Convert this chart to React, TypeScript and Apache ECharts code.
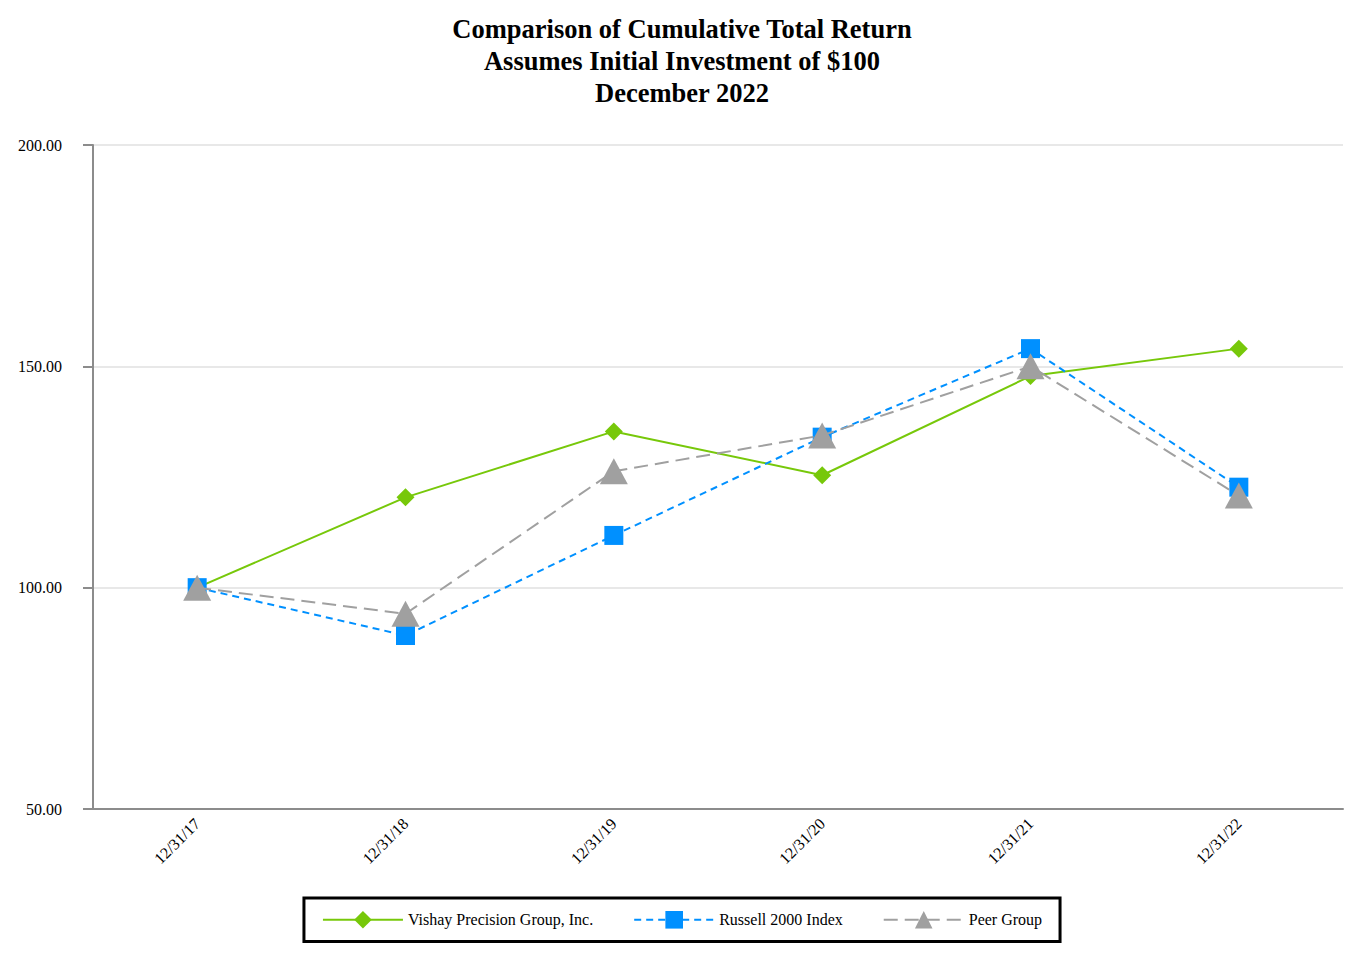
import React, { useEffect, useRef } from "react";
import * as echarts from "echarts";

const categories = ["12/31/17", "12/31/18", "12/31/19", "12/31/20", "12/31/21", "12/31/22"];
const vishay = [100.0, 120.4, 135.3, 125.4, 147.8, 154.0];
const russell = [100.0, 89.2, 111.8, 134.0, 154.0, 122.7];
const peer = [100.0, 94.1, 126.3, 134.4, 150.0, 120.8];
const seriesNames = ["Vishay Precision Group, Inc.", "Russell 2000 Index", "Peer Group"];
const yTicks = { min: 50, max: 200, interval: 50 };

const FONT = "'Liberation Serif', 'Times New Roman', serif";

export default function App() {
  const ref = useRef<HTMLDivElement>(null);
  useEffect(() => {
    if (!ref.current) return;
    const chart = echarts.init(ref.current, null, { renderer: "svg" });
    chart.setOption({
      animation: false,
      backgroundColor: "#ffffff",
      textStyle: { fontFamily: FONT },
      title: {
        text: "Comparison of Cumulative Total Return\nAssumes Initial Investment of $100\nDecember 2022",
        left: "center",
        top: 8,
        textStyle: { fontFamily: FONT, fontSize: 26.5, fontWeight: "bold", lineHeight: 32, color: "#000" },
      },
      grid: { left: 93, right: 21, top: 145, bottom: 151, containLabel: false },
      legend: {
        data: seriesNames,
        left: "center",
        top: 898,
        padding: [13, 18],
        borderColor: "#000",
        borderWidth: 3,
        itemWidth: 80,
        itemHeight: 22,
        itemGap: 40,
        textStyle: { fontFamily: FONT, fontSize: 16, color: "#000" },
      },
      xAxis: {
        type: "category",
        data: categories,
        boundaryGap: true,
        axisLine: { lineStyle: { color: "#8c8c8c", width: 2 } },
        axisTick: { alignWithLabel: true, length: 10, lineStyle: { color: "#8c8c8c", width: 2 } },
        axisLabel: { rotate: 45, margin: 12, fontFamily: FONT, fontSize: 16, color: "#000" },
        splitLine: { show: false },
      },
      yAxis: {
        type: "value",
        min: yTicks.min,
        max: yTicks.max,
        interval: yTicks.interval,
        axisLine: { show: true, lineStyle: { color: "#8c8c8c", width: 2 } },
        axisTick: { show: true, length: 10, lineStyle: { color: "#8c8c8c", width: 2 } },
        axisLabel: {
          margin: 31,
          fontFamily: FONT,
          fontSize: 16,
          color: "#000",
          formatter: (v: number) => v.toFixed(2),
        },
        splitLine: { show: true, lineStyle: { color: "#e8e8e8", width: 2 } },
      },
      series: [
        {
          name: seriesNames[0],
          type: "line",
          data: vishay,
          symbol: "diamond",
          symbolSize: 18,
          itemStyle: { color: "#77c80a" },
          lineStyle: { color: "#77c80a", width: 2, type: "solid" },
          z: 2,
        },
        {
          name: seriesNames[1],
          type: "line",
          data: russell,
          symbol: "rect",
          symbolSize: 19,
          itemStyle: { color: "#0090ff" },
          lineStyle: { color: "#0090ff", width: 2, type: [7, 5] },
          z: 3,
        },
        {
          name: seriesNames[2],
          type: "line",
          data: peer,
          symbol: "triangle",
          symbolSize: [28, 26],
          itemStyle: { color: "#a0a0a0" },
          lineStyle: { color: "#a0a0a0", width: 2, type: [14, 7] },
          z: 4,
        },
      ],
    });
    return () => chart.dispose();
  }, []);
  return (
    <div
      ref={ref}
      style={{ position: "absolute", left: 0, top: 0, width: 1364, height: 960 }}
    />
  );
}
